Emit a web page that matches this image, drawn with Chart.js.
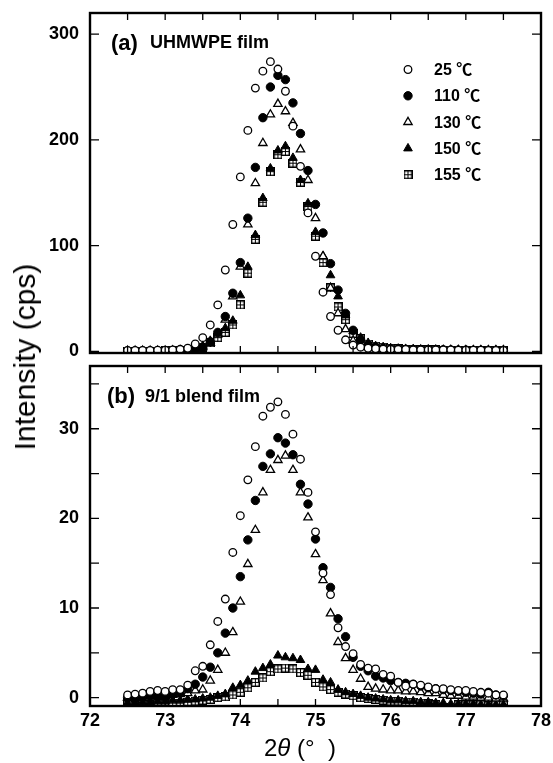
<!DOCTYPE html>
<html>
<head>
<meta charset="utf-8">
<script src="https://cdn.jsdelivr.net/npm/chart.js@4.4.0/dist/chart.umd.min.js"></script>
<style>
  body { margin: 0; background: #fff; }
  #wrap { position: relative; width: 553px; height: 763px; overflow: hidden; }
  #topCanvas { position: absolute; left: 0; top: 0; }
  #botCanvas { position: absolute; left: 0; top: 356px; }
  #ylab {
    position: absolute; left: 25px; top: 357px;
    transform: translate(-50%, -50%) rotate(-90deg);
    font: 30px "Liberation Sans", Arial, sans-serif;
    white-space: nowrap; color: #000;
  }
  #xlab {
    position: absolute; left: 300px; top: 748px;
    transform: translate(-50%, -50%);
    font: 24px "Liberation Sans", Arial, sans-serif;
    white-space: nowrap; color: #000;
  }
</style>
</head>
<body>
<div id="wrap">
  <canvas id="topCanvas" width="553" height="366"></canvas>
  <canvas id="botCanvas" width="553" height="407"></canvas>
  <div id="ylab">Intensity (cps)</div>
  <div id="xlab">2<i>θ</i> (°&nbsp;&nbsp;)</div>
</div>
<script>
// 2θ (deg) - every series is sampled at these angles
const angles = [72.5, 72.6, 72.7, 72.8, 72.9, 73.0, 73.1, 73.2, 73.3, 73.4,
  73.5, 73.6, 73.7, 73.8, 73.9, 74.0, 74.1, 74.2, 74.3, 74.4,
  74.5, 74.6, 74.7, 74.8, 74.9, 75.0, 75.1, 75.2, 75.3, 75.4,
  75.5, 75.6, 75.7, 75.8, 75.9, 76.0, 76.1, 76.2, 76.3, 76.4,
  76.5, 76.6, 76.7, 76.8, 76.9, 77.0, 77.1, 77.2, 77.3, 77.4, 77.5];

const tempLabels = ['25 ℃', '110 ℃', '130 ℃', '150 ℃', '155 ℃'];

// (a) UHMWPE film, intensity (cps)
const uhmw25 = [1.0, 1.0, 1.0, 1.0, 1.2, 1.2, 1.5, 2.0, 3.0, 7,
  13, 25, 44, 77, 120, 165, 209, 249, 265, 274,
  267, 246, 213, 175, 131, 90, 56, 33, 20, 11,
  6, 4, 3, 2.5, 2.2, 2.0, 2.0, 1.8, 1.5, 1.5,
  1.5, 1.5, 1.5, 1.5, 1.2, 1.2, 1.2, 1.2, 1.0, 1.0, 1.0];
const uhmw110 = [0.5, 0.5, 0.5, 0.5, 0.5, 0.6, 0.8, 1.0, 1.5, 2.5,
  4, 9, 18, 33, 55, 84, 126, 174, 221, 250,
  261, 257, 235, 206, 171, 139, 112, 83, 58, 36,
  20, 11, 6, 4, 3, 2.5, 2, 2, 1.8, 1.5,
  1.5, 1.5, 1.5, 1.2, 1.2, 1.2, 1.0, 1.0, 1.0, 1.0, 1.0];
const uhmw130 = [0.5, 0.5, 0.5, 0.5, 0.5, 0.6, 0.8, 1.0, 1.5, 2.5,
  4, 8, 16, 30, 52, 80, 120, 159, 197, 224,
  234, 227, 216, 191, 162, 126, 90, 60, 36, 21,
  10, 6, 4, 3, 2.5, 2, 2, 1.8, 1.5, 1.5,
  1.5, 1.2, 1.2, 1.2, 1.2, 1.0, 1.0, 1.0, 1.0, 1.0, 1.0];
const uhmw150 = [0.3, 0.3, 0.3, 0.3, 0.3, 0.4, 0.5, 0.8, 1.2, 2,
  5, 10, 17, 22, 29, 53, 80, 110, 145, 173,
  190, 194, 183, 162, 140, 113, 90, 72, 52, 34,
  19, 13, 8, 5, 4, 3, 2.5, 2, 2, 1.5,
  1.5, 1.5, 1.2, 1.2, 1.2, 1.0, 1.0, 1.0, 1.0, 1.0, 1.0];
const uhmw155 = [0.3, 0.3, 0.3, 0.3, 0.3, 0.4, 0.5, 0.8, 1.0, 2,
  4, 8, 13, 18, 25, 44, 74, 106, 141, 170,
  186, 189, 178, 160, 137, 109, 84, 60, 42, 30,
  17, 12, 7, 5, 4, 3, 2.5, 2, 2, 1.5,
  1.5, 1.5, 1.2, 1.2, 1.2, 1.0, 1.0, 1.0, 1.0, 1.0, 1.0];

// (b) 9/1 blend film, intensity (cps)
const blend25 = [0.3, 0.4, 0.5, 0.7, 0.8, 0.7, 0.9, 0.9, 1.4, 3.0,
  3.5, 5.9, 8.5, 11.0, 16.2, 20.3, 24.3, 28.0, 31.4, 32.4,
  33.0, 31.6, 29.4, 26.6, 22.9, 18.5, 13.9, 11.5, 7.8, 5.7,
  4.9, 3.7, 3.3, 3.2, 2.6, 2.4, 1.7, 1.3, 1.5, 1.4,
  1.2, 1.0, 1.0, 0.9, 0.8, 0.8, 0.7, 0.6, 0.5, 0.3, 0.3];
const blend110 = [0.0, 0.0, 0.1, 0.2, 0.2, 0.3, 0.4, 0.6, 1.0, 1.5,
  2.3, 3.4, 5.0, 7.2, 10.0, 13.5, 17.6, 22.0, 25.8, 27.2,
  29.0, 28.4, 27.1, 23.8, 21.6, 17.7, 14.5, 12.3, 8.8, 6.8,
  4.5, 3.5, 3.0, 2.4, 2.2, 1.9, 1.7, 1.6, 1.5, 1.3,
  1.1, 1.0, 0.9, 0.8, 0.7, 0.6, 0.5, 0.4, 0.6, 0.3, 0.2];
const blend130 = [0.0, 0.0, 0.1, 0.1, 0.2, 0.2, 0.3, 0.4, 0.5, 0.8,
  0.9, 1.9, 3.1, 5.0, 7.3, 10.7, 14.9, 18.7, 22.9, 25.4,
  26.5, 27.0, 25.4, 22.9, 20.1, 16.0, 13.1, 9.4, 6.2, 4.4,
  3.1, 2.1, 1.2, 1.0, 0.9, 0.8, 0.8, 0.7, 0.7, 0.6,
  0.5, 0.5, 0.3, 0.2, 0.2, 0.1, 0.1, 0.0, 0.0, -0.1, -0.1];
const blend150 = [-0.6, -0.6, -0.5, -0.5, -0.4, -0.4, -0.3, -0.3, -0.2, -0.2,
  -0.1, 0.0, 0.2, 0.4, 1.1, 1.4, 1.9, 2.9, 3.3, 3.7,
  4.7, 4.5, 4.4, 4.2, 3.2, 3.1, 2.0, 1.7, 0.9, 0.6,
  0.4, 0.2, 0.0, -0.1, -0.2, -0.3, -0.3, -0.4, -0.4, -0.5,
  -0.5, -0.6, -0.6, -0.7, -0.7, -0.7, -0.7, -0.8, -0.8, -0.8, -0.8];
const blend155 = [-0.8, -0.9, -0.8, -0.8, -0.7, -0.7, -0.6, -0.6, -0.5, -0.4,
  -0.3, -0.2, 0.0, 0.1, 0.3, 0.6, 1.1, 1.7, 2.2, 2.9,
  3.2, 3.3, 3.2, 2.8, 2.5, 1.7, 1.2, 0.9, 0.6, 0.4,
  0.2, 0.0, -0.1, -0.2, -0.3, -0.4, -0.4, -0.5, -0.5, -0.6,
  -0.7, -0.8, -1.1, -1.3, -0.8, -0.8, -0.8, -0.8, -0.9, -0.8, -0.8];

// axes
const xTickLabels = [72, 73, 74, 75, 76, 77, 78];
const xTickMarks = [72.5, 73, 73.5, 74, 74.5, 75, 75.5, 76, 76.5, 77, 77.5];
const topTicks = [0, 100, 200, 300];
const botTicks = [0, 10, 20, 30];
const botMinorTicks = [5, 15, 25, 35];

const FONT = '"Liberation Sans", Arial, sans-serif';

// square with a cross inside, used for 155 C
function boxCross() {
  const c = document.createElement('canvas');
  c.width = 9; c.height = 9;
  const g = c.getContext('2d');
  g.fillStyle = '#fff';
  g.fillRect(0, 0, 9, 9);
  g.strokeStyle = '#000';
  g.lineWidth = 1.4;
  g.strokeRect(0.7, 0.7, 7.6, 7.6);
  g.lineWidth = 1;
  g.beginPath();
  g.moveTo(4.5, 1); g.lineTo(4.5, 8);
  g.moveTo(1, 4.5); g.lineTo(8, 4.5);
  g.stroke();
  return c;
}

const markers = [
  { pointStyle: 'circle', radius: 3.8, bg: '#fff', bw: 1.3 },
  { pointStyle: 'circle', radius: 4.2, bg: '#000', bw: 1 },
  { pointStyle: 'triangle', radius: 4.8, bg: '#fff', bw: 1.3 },
  { pointStyle: 'triangle', radius: 5, bg: '#000', bw: 1 },
  { pointStyle: boxCross(), radius: 4.5, bg: '#fff', bw: 0 },
];

function makeDatasets(series) {
  return series.map((vals, i) => ({
    label: tempLabels[i],
    data: angles.map((a, j) => ({ x: a, y: vals[j] })),
    pointStyle: markers[i].pointStyle,
    pointRadius: markers[i].radius,
    pointBackgroundColor: markers[i].bg,
    pointBorderColor: '#000',
    pointBorderWidth: markers[i].bw,
    showLine: false,
  }));
}

// frame with inward ticks on all four sides
const framePlugin = {
  id: 'frame',
  afterDatasetsDraw(chart, args, opts) {
    const { ctx, chartArea: a, scales: { x, y } } = chart;
    ctx.save();
    ctx.strokeStyle = '#000';
    ctx.lineWidth = 1.3;
    ctx.beginPath();
    xTickMarks.forEach(v => {
      const px = x.getPixelForValue(v);
      ctx.moveTo(px, a.bottom); ctx.lineTo(px, a.bottom - 7);
      ctx.moveTo(px, a.top); ctx.lineTo(px, a.top + 7);
    });
    opts.yMarks.forEach(v => {
      const py = y.getPixelForValue(v);
      ctx.moveTo(a.left, py); ctx.lineTo(a.left + 9, py);
      ctx.moveTo(a.right, py); ctx.lineTo(a.right - 9, py);
    });
    ctx.stroke();
    ctx.lineWidth = 2.4;
    ctx.strokeRect(a.left, a.top, a.right - a.left, a.bottom - a.top);
    ctx.restore();
  }
};

// "(a) UHMWPE film" style panel tag
const tagPlugin = {
  id: 'tag',
  afterDraw(chart, args, opts) {
    const { ctx, chartArea: a } = chart;
    ctx.save();
    ctx.fillStyle = '#000';
    ctx.textBaseline = 'middle';
    ctx.font = 'bold 22px ' + FONT;
    ctx.fillText(opts.tag, a.left + opts.dx, a.top + opts.dy);
    ctx.font = 'bold 18px ' + FONT;
    ctx.fillText(opts.name, a.left + opts.dx2, a.top + opts.dy);
    ctx.restore();
  }
};

// marker legend inside panel (a)
const keyPlugin = {
  id: 'key',
  afterDraw(chart, args, opts) {
    if (!opts.show) return;
    const { ctx, chartArea: a } = chart;
    ctx.save();
    chart.data.datasets.forEach((ds, i) => {
      const yy = a.top + 56.5 + i * 26.3;
      ctx.fillStyle = ds.pointBackgroundColor;
      ctx.strokeStyle = '#000';
      ctx.lineWidth = ds.pointBorderWidth;
      Chart.helpers.drawPoint(ctx, {
        pointStyle: ds.pointStyle, radius: ds.pointRadius,
        rotation: 0, borderWidth: ds.pointBorderWidth
      }, a.left + 318, yy);
      ctx.fillStyle = '#000';
      ctx.textBaseline = 'middle';
      ctx.font = 'bold 16px ' + FONT + ', "Noto Sans CJK JP"';
      ctx.fillText(ds.label, a.left + 344, yy + 1);
    });
    ctx.restore();
  }
};

function makePanel(id, series, opt) {
  return new Chart(document.getElementById(id), {
    type: 'scatter',
    data: { datasets: makeDatasets(series) },
    plugins: [framePlugin, tagPlugin, keyPlugin],
    options: {
      responsive: false,
      animation: false,
      events: [],
      layout: { padding: { top: opt.padTop, right: 12, bottom: opt.padBottom, left: 0 } },
      plugins: {
        legend: { display: false },
        tooltip: { enabled: false },
        frame: { yMarks: opt.yMarks },
        tag: opt.tag,
        key: { show: opt.key },
      },
      scales: {
        x: {
          type: 'linear', min: 72, max: 78,
          display: opt.xLabels,
          grid: { display: false, drawTicks: false },
          border: { display: false },
          ticks: { color: '#000', padding: 4, font: { family: FONT, size: 18, weight: 'bold' } },
          afterBuildTicks: s => { s.ticks = xTickLabels.map(v => ({ value: v })); },
          afterFit: s => {
            s.height = opt.xLabels ? 57 : 0;
            s.paddingLeft = 0; s.paddingRight = 0;
          },
        },
        y: {
          min: opt.yMin, max: opt.yMax,
          grid: { display: false, drawTicks: false },
          border: { display: false },
          ticks: { color: '#000', padding: 11, font: { family: FONT, size: 18, weight: 'bold' } },
          afterBuildTicks: s => { s.ticks = opt.yTicks.map(v => ({ value: v })); },
          afterFit: s => {
            s.width = 90;
            s.paddingTop = 0; s.paddingBottom = 0;
          },
        },
      },
    },
  });
}

makePanel('topCanvas', [uhmw25, uhmw110, uhmw130, uhmw150, uhmw155], {
  padTop: 13, padBottom: 13, yMin: -1.5, yMax: 320,
  yTicks: topTicks, yMarks: topTicks, xLabels: false, key: true,
  tag: { tag: '(a)', name: 'UHMWPE film', dx: 21, dx2: 60, dy: 30.5 },
});

makePanel('botCanvas', [blend25, blend110, blend130, blend150, blend155], {
  padTop: 10, padBottom: 0, yMin: -0.93, yMax: 37,
  yTicks: botTicks, yMarks: botTicks.concat(botMinorTicks), xLabels: true, key: false,
  tag: { tag: '(b)', name: '9/1 blend film', dx: 17, dx2: 55, dy: 31 },
});
</script>
</body>
</html>
